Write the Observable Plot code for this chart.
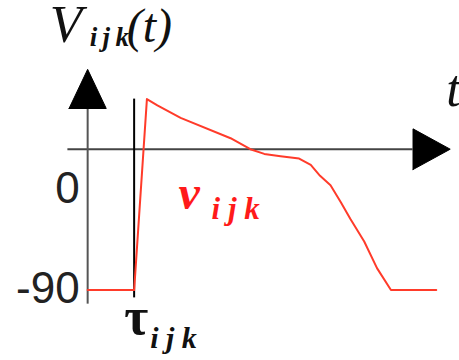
<!DOCTYPE html>
<html>
<head>
<meta charset="utf-8">
<script src="https://cdn.jsdelivr.net/npm/d3@7"></script>
<script src="https://cdn.jsdelivr.net/npm/@observablehq/plot@0.6"></script>
<style>
  html, body { margin: 0; padding: 0; background: #fff; }
  #chart svg { display: block; }
</style>
</head>
<body>
<div id="chart"></div>
<script>
// Action potential of cell (i, j, k): time in ms, membrane potential in mV
const timeMs  = [0, 40, 51, 60, 80, 123, 140, 152, 166, 182, 192, 200, 209, 218, 226, 238, 249, 261, 300];
const voltage = [-90, -90, 32, 28, 20, 7, 0, -3, -4.5, -6, -10, -17, -23, -34, -44.5, -59, -76, -90, -90];

// Activation time τ_ijk and the labelled potentials
const activationTime = 40;
const yTickValues = [0, -90];
const yTickLabels = ["0", "-90"];

// Extent of the hand-drawn axes (data units)
const tAxisRange = [-17, 280];
const vAxisRange = [-99, 26];
const tArrowTip = 312;
const vArrowTip = 51;
const tauLineRange = [-95, 32];

const ap = timeMs.map((t, i) => ({t, v: voltage[i]}));

// Filled arrowheads for both axes
const heads = [
  {id: "v", t: -16, v: vAxisRange[1]},
  {id: "v", t: 16, v: vAxisRange[1]},
  {id: "v", t: 0, v: vArrowTip},
  {id: "v", t: -16, v: vAxisRange[1]},
  {id: "t", t: tAxisRange[1], v: -13},
  {id: "t", t: tAxisRange[1], v: 13},
  {id: "t", t: tArrowTip, v: 0},
  {id: "t", t: tAxisRange[1], v: -13}
];

const serif = "'Liberation Serif', 'Times New Roman', serif";
const sans = "'Liberation Sans', Arial, Helvetica, sans-serif";

// helper for a single text label anchored at a data point
const label = (text, x, y, o) => Plot.text([text], {
  x: () => x, y: () => y, text: d => d,
  textAnchor: "start", lineAnchor: "bottom", fontFamily: serif, ...o
});

// the "0" label sits below the time axis, "-90" on the resting level
const tickOffsets = [54, 13];
const tickMarks = yTickValues.map((v, i) =>
  label(yTickLabels[i], 0, v, {
    textAnchor: "end", dx: -8, dy: tickOffsets[i],
    fontFamily: sans, fontSize: 44, fill: "#222"
  })
);

const chart = Plot.plot({
  width: 459,
  height: 360,
  margin: 0,
  x: {domain: [-75, 320], axis: null},
  y: {domain: [-135, 95], axis: null},
  style: {background: "#fff", overflow: "visible"},
  marks: [
    // axes
    Plot.ruleY([0], {x1: tAxisRange[0], x2: tAxisRange[1], stroke: "#444", strokeWidth: 2}),
    Plot.ruleX([0], {y1: vAxisRange[0], y2: vAxisRange[1], stroke: "#555", strokeWidth: 2}),
    Plot.line(heads, {x: "t", y: "v", z: "id", fill: "#000", stroke: "#000", strokeWidth: 1}),
    // activation time marker
    Plot.ruleX([activationTime], {y1: tauLineRange[0], y2: tauLineRange[1], stroke: "#000", strokeWidth: 2}),
    // action potential
    Plot.line(ap, {x: "t", y: "v", stroke: "#ff3b2a", strokeWidth: 2, curve: "linear"}),
    // potential labels
    ...tickMarks,
    // title V_ijk(t)
    label("V", 0, vArrowTip, {dx: -38, dy: -27, fontStyle: "italic", fontSize: 53, fill: "#111"}),
    label("i\u2009j\u2009k", 0, vArrowTip, {dx: 2, dy: -23, fontStyle: "italic", fontWeight: "bold", fontSize: 27, fill: "#111"}),
    label("(t)", 0, vArrowTip, {dx: 39, dy: -27, fontStyle: "italic", fontSize: 48, fill: "#111"}),
    // time axis label
    label("t", tArrowTip, 0, {dx: -4, dy: -43, fontStyle: "italic", fontSize: 52, fill: "#111"}),
    // activation time label τ_ijk
    label("τ", activationTime, -90, {textAnchor: "middle", dx: 2, dy: 44, fontWeight: "bold", fontSize: 52, fill: "#111"}),
    label("i j k", activationTime, -90, {dx: 16, dy: 58, fontStyle: "italic", fontWeight: "bold", fontSize: 30, fill: "#111"}),
    // potential label v_ijk
    label("v", 80, -20, {dx: -2, dy: 28, fontStyle: "italic", fontWeight: "bold", fontSize: 48, fill: "#ff1a1a"}),
    label("i j k", 80, -20, {dx: 31, dy: 38, fontStyle: "italic", fontWeight: "bold", fontSize: 31, fill: "#ff1a1a"})
  ]
});

document.getElementById("chart").appendChild(chart);
</script>
</body>
</html>
